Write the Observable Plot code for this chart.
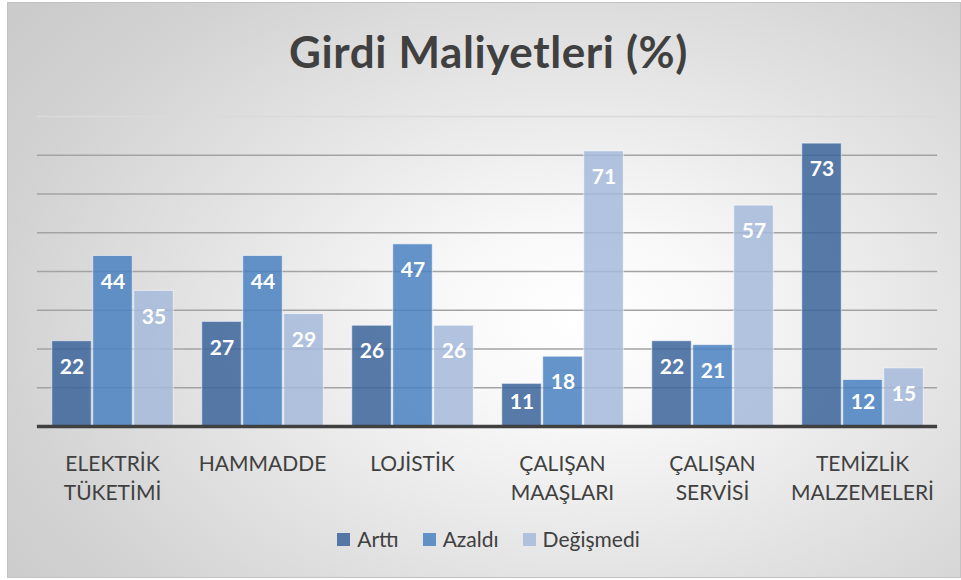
<!DOCTYPE html>
<html><head><meta charset="utf-8">
<script src="https://cdn.jsdelivr.net/npm/d3@7"></script>
<script src="https://cdn.jsdelivr.net/npm/@observablehq/plot@0.6"></script>
<style>
html,body{margin:0;padding:0;background:#fff;width:961px;height:580px;overflow:hidden;position:relative;}
#frame{position:absolute;left:7px;top:2px;width:952px;height:574px;border:1px solid #c2c2c2;
  background:radial-gradient(ellipse 75% 85% at 60% 55%, #ffffff 0%, #f8f8f8 20%, #e4e4e4 52%, #d2d2d2 82%, #cbcbcb 100%);}
#chart{position:absolute;left:0;top:0;}
#title{position:absolute;left:8px;top:25px;width:961px;text-align:center;font:bold 44px Lato,sans-serif;letter-spacing:0.6px;line-height:1.2;color:#404040;}
#legend{position:absolute;left:8px;top:526px;width:961px;display:flex;justify-content:center;font:21px Lato,sans-serif;line-height:1.2;color:#404040;}
#legend .item{display:flex;align-items:center;margin:0 12px;}
#legend .sw{width:13px;height:13px;margin-right:7px;margin-top:2px;}
</style></head>
<body>
<div id="frame"></div>
<div id="chart"></div>
<div id="title">Girdi Maliyetleri (%)</div>
<div id="legend"></div>
<script>
const categories = ["ELEKTRİK\nTÜKETİMİ","HAMMADDE","LOJİSTİK","ÇALIŞAN\nMAAŞLARI","ÇALIŞAN\nSERVİSİ","TEMİZLİK\nMALZEMELERİ"];
const series = ["Arttı","Azaldı","Değişmedi"];
const arttiValues = [22,27,26,11,22,73];
const azaldiValues = [44,44,47,18,21,12];
const degismediValues = [35,29,26,71,57,15];
const gridValues = [10,20,30,40,50,60,70];
const topGridValue = [80];
const colors = ["#3b649b","#4981c0","#a6badb"];

const seriesValues = [arttiValues, azaldiValues, degismediValues];
const data = [];
categories.forEach((c,i) => series.forEach((s,j) => data.push({category:c, series:s, value:seriesValues[j][i]})));

const chart = Plot.plot({
  width: 961, height: 580,
  marginTop: 116, marginBottom: 154, marginLeft: 37, marginRight: 23,
  style: {background: "transparent", fontFamily: "Lato, sans-serif", color: "#404040", overflow: "visible"},
  fx: {domain: categories, paddingInner: 0.173, paddingOuter: 0.087, label: null, axis: null},
  x: {domain: series, padding: 0, axis: null},
  y: {domain: [0, 80], axis: null},
  color: {domain: series, range: colors},
  marks: [
    Plot.ruleY(gridValues, {stroke: "#a3a3a3", strokeWidth: 1.6, insetLeft: -13.1, insetRight: -13.1}),
    Plot.ruleY(topGridValue, {stroke: "#dadada", strokeWidth: 1.6, insetLeft: -13.1, insetRight: -13.1}),
    Plot.barY(data, {fx: "category", x: "series", y: "value", fill: "series", fillOpacity: 0.85,
      stroke: "#ffffff", strokeOpacity: 0.55, strokeWidth: 1, insetLeft: 0.75, insetRight: 0.75}),
    Plot.ruleY([0], {stroke: "#404040", strokeWidth: 3.5, insetLeft: -13.1, insetRight: -13.1}),
    Plot.text(data, {fx: "category", x: "series", y: d => Math.max(d.value, 13), dy: 26, text: d => String(d.value),
      fill: "#ffffff", fontWeight: "bold", fontSize: 21}),
    Plot.text(categories, {fx: d => d, text: d => d, frameAnchor: "bottom", lineAnchor: "top", dy: 24,
      fontSize: 21, fontWeight: 400, lineHeight: 1.38, fill: "#404040"})
  ]
});
document.getElementById("chart").appendChild(chart);

const legend = document.getElementById("legend");
series.forEach((s,j) => {
  const it = document.createElement("div"); it.className = "item";
  const sw = document.createElement("div"); sw.className = "sw"; sw.style.background = colors[j]; sw.style.opacity = 0.85;
  const tx = document.createElement("span"); tx.textContent = s;
  it.appendChild(sw); it.appendChild(tx); legend.appendChild(it);
});
</script>
</body></html>
